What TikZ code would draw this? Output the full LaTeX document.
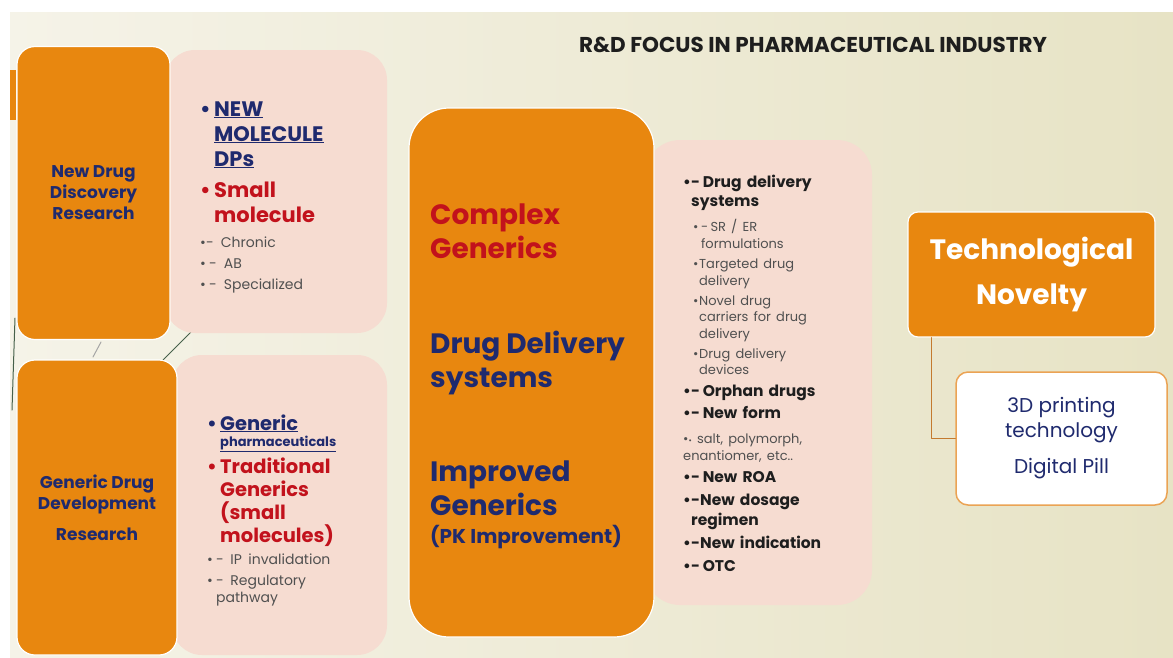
\documentclass[tikz,border=0pt]{standalone}
\usepackage{fontspec}
\setmainfont{Poppins}
\usetikzlibrary{positioning}

\definecolor{rdorange}{HTML}{E8870F}
\definecolor{rdnavy}{HTML}{1F2A6E}
\definecolor{rdred}{HTML}{C2121C}
\definecolor{rdpink}{HTML}{F6DCD1}
\definecolor{rddark}{HTML}{1E1E1E}
\definecolor{rdgray}{HTML}{505050}
\definecolor{rdbgl}{HTML}{F5F3E8}
\definecolor{rdbgr}{HTML}{E7E3C5}
\definecolor{rdlink}{HTML}{C47A2E}
\definecolor{rdpillline}{HTML}{EBA354}
\definecolor{rdtheme}{HTML}{46604A}

% one bullet paragraph: box width for the bullet = hanging indent
\newcommand{\rditem}[2]{\hangindent=#1\hangafter=1\noindent\makebox[#1][l]{\textbullet}#2\par}

\tikzset{
  panel/.style={fill=rdpink, rounded corners=30pt, inner sep=0pt},
  orangebox/.style={fill=rdorange, draw=white, line width=1.2pt, rounded corners=18pt,
    inner sep=0pt, align=center, text=rdnavy},
  bullets/.style={anchor=base west, inner sep=0pt, text width=#1, align=left},
  bigtext/.style={anchor=base west, inner sep=0pt, align=left,
    font={\fontsize{28}{34}\selectfont\bfseries}},
  link/.style={draw=rdlink, line width=1.3pt},
  deco/.style={draw=rdtheme, line width=1pt},
}

\begin{document}
\begin{tikzpicture}[line cap=round,line join=round,x=1pt,y=-1pt]
\useasboundingbox (0,0) rectangle (1173,657);
\fill[white] (0,0) rectangle (1173,657);
\shade[left color=rdbgl,right color=rdbgr] (10,12) rectangle (1173,657);

% slide theme strokes
\fill[rdorange] (10,70) rectangle (16,120);
\draw[deco] (15,318) -- (12,410);
\draw[deco,draw=gray!70] (101,342) -- (93,357);
\draw[deco] (163,360) -- (205,318);

\node[anchor=base,font={\fontsize{21.5}{24}\selectfont\bfseries},text=rddark] (title) at (813,52)
  {R\&D FOCUS IN PHARMACEUTICAL INDUSTRY};

% new drug discovery
\node[panel,minimum width=222pt,minimum height=283pt] (tlp) at (276,191.5) {};
\node[orangebox,minimum width=153pt,minimum height=293pt,
  font={\fontsize{17}{21}\selectfont\bfseries}] (nd) at (93.5,193) {New Drug\\Discovery\\Research};
\node[bullets=185pt,font={\fontsize{21}{25}\selectfont\bfseries},text=rdnavy] (tl) at (200,116) {%
\rditem{14pt}{\underline{NEW}\newline\underline{MOLECULE}\newline\underline{DPs}}
\vspace{6pt}\color{rdred}
\rditem{14pt}{Small\newline molecule}
\vspace{8pt}\fontsize{14}{17}\selectfont\mdseries\color{rdgray}
\rditem{6pt}{-~Chronic}
\vspace{4pt}\rditem{9pt}{-~AB}
\vspace{4pt}\rditem{9pt}{-~Specialized}};

% generic drug development
\node[panel,minimum width=215pt,minimum height=300pt] (blp) at (279.5,505) {};
\node[orangebox,minimum width=160pt,minimum height=295pt,
  font={\fontsize{17}{21}\selectfont\bfseries}] (gd) at (97,507.5) {Generic Drug\\Development\\[10pt]Research};
\node[bullets=178pt,font={\fontsize{19.5}{23}\selectfont\bfseries},text=rdnavy] (bl) at (207,430) {%
\rditem{13pt}{\underline{Generic}}
{\fontsize{13}{16}\selectfont\leftskip=13pt\noindent\underline{pharmaceuticals}\par}
\vspace{4pt}\color{rdred}
\rditem{13pt}{Traditional\newline Generics\newline(small\newline molecules)}
\vspace{5pt}\fontsize{14}{17}\selectfont\mdseries\color{rdgray}
\rditem{9pt}{-~IP invalidation}
\vspace{4pt}\rditem{9pt}{-~Regulatory\newline pathway}};

% middle column
\node[panel,rounded corners=35pt,minimum width=227pt,minimum height=465pt] (midp) at (758.5,372.5) {};
\node[orangebox,rounded corners=40pt,minimum width=245pt,minimum height=529pt] (mid) at (531.5,372.5) {};
\node[bigtext,text=rdred] (cg) at (430,258) {Complex\\Generics};
\node[bigtext,text=rdnavy] (dds) at (430,387) {Drug Delivery\\systems};
\node[bigtext,text=rdnavy] (ig) at (430,515) {Improved\\Generics};
\node[bigtext,text=rdnavy,font={\fontsize{20}{24}\selectfont\bfseries}] (pk) at (430,543) {(PK Improvement)};

\node[bullets=180pt,font={\fontsize{15.5}{19.5}\selectfont\bfseries},text=rddark] (rp) at (683,187) {%
\rditem{8pt}{-\,Drug delivery\newline systems}
\vspace{8.5pt}\fontsize{13}{16.5}\selectfont\mdseries\color{rdgray}\leftskip=10pt
\rditem{8pt}{-\,SR / ER\newline formulations}
\vspace{4pt}\rditem{6pt}{Targeted drug\newline delivery}
\vspace{3.5pt}\rditem{6pt}{Novel drug\newline carriers for drug\newline delivery}
\vspace{3.5pt}\rditem{6pt}{Drug delivery\newline devices}
\vspace{2.5pt}\leftskip=0pt\fontsize{15.5}{19.5}\selectfont\bfseries\color{rddark}
\rditem{8pt}{-\,Orphan drugs}
\vspace{2.5pt}\rditem{8pt}{-\,New form}
\vspace{8.5pt}\fontsize{13}{16.5}\selectfont\mdseries\color{rdgray}
\noindent\textbullet{\footnotesize\textbullet}~salt, polymorph,\newline enantiomer, etc..\par
\vspace{3pt}\fontsize{15.5}{19.5}\selectfont\bfseries\color{rddark}
\rditem{8pt}{-\,New ROA}
\vspace{3.5pt}\rditem{8pt}{-New dosage\newline regimen}
\vspace{3.5pt}\rditem{8pt}{-New indication}
\vspace{3.5pt}\rditem{8pt}{-\,OTC}};

% technological novelty
\node[orangebox,rounded corners=10pt,minimum width=247pt,minimum height=125pt,text=white,
  font={\fontsize{28}{45}\selectfont\bfseries}] (tn) at (1031.5,274.5) {Technological\\Novelty};
\node[fill=white,draw=rdpillline,line width=1.5pt,rounded corners=12pt,minimum width=211pt,
  minimum height=133pt,align=center,text=rdnavy,font={\fontsize{20}{25}\selectfont}] (pill)
  at (1061.5,438.5) {3D printing\\technology\\[11pt]Digital Pill};
\draw[link] ([xshift=24pt]tn.south west) |- (pill.west);
\end{tikzpicture}
\end{document}
